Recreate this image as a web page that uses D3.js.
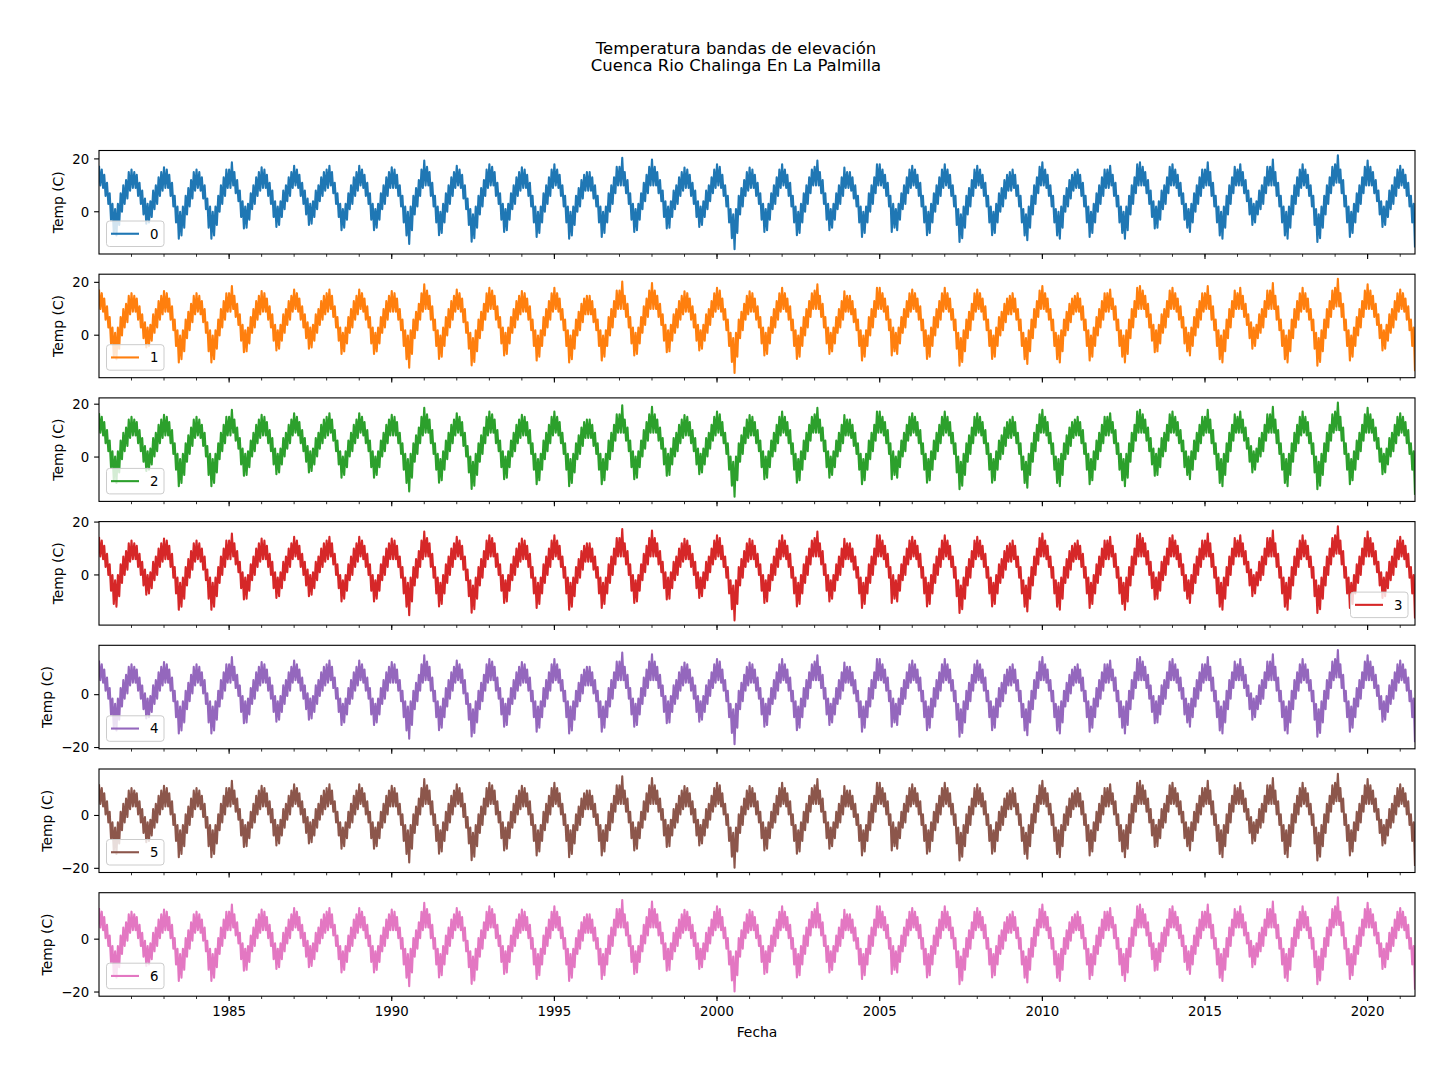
<!DOCTYPE html>
<html><head><meta charset="utf-8">
<script src="https://cdn.jsdelivr.net/npm/d3@7"></script>
<style>
html,body{margin:0;padding:0;background:#fff;}
text{font-family:"DejaVu Sans",sans-serif;fill:#000;}
</style></head>
<body><svg id="chart" width="1456" height="1080"></svg>
<script>
// ---------------- DATA ----------------
const titleLines = ["Temperatura bandas de elevación", "Cuenca Rio Chalinga En La Palmilla"];
const xLabel = "Fecha";
const yLabel = "Temp (C)";
const bandLabels = ["0", "1", "2", "3", "4", "5", "6"];
// shift of each elevation band relative to band 0 (°C)
const bandOffsets = [0, -0.1, -0.8, -3.0, -4.5, -5.6, -5.6];
const legendCorner = ["ll", "ll", "ll", "lr", "ll", "ll", "ll"];
const yTickValues = [-20, 0, 20];
const xMajorYears = [1985, 1990, 1995, 2000, 2005, 2010, 2015, 2020];
const startYear = 1981;
// half-month samples (1st, 16th of each month), band 0 temperature, °C
const temps1981 = [17.4,10,16,9,14,6,11,3,7,-3,3,-8,1,-9,3,-5,7,0,10,3,12,5,15,8];
const temps1982 = [16,9,15,9,14,6,11,3,8,-1,5,-4.5,3,-4,4,-2,8,1,10,3,13,6,15,8];
const temps1983 = [16.8,9,16,9,14,6,11,2,6,-4,2,-10.2,0,-9,2,-6,6,-1,9,2,12,5,15,8];
const temps1984 = [16,9,15,8,13,5,10,1,5,-6,2,-10.2,0,-9,2,-5,6,0,10,3,13,6,16,9];
const temps1985 = [16,9,18.7,10,15,7,12,4,8,-2,4,-6.3,2,-6,3,-3,7,1,10,3,13,6,15,8];
const temps1986 = [16.8,9,16,9,14,6,11,3,8,-2,4,-5.7,2,-5,4,-2,8,1,10,4,13,6,15,9];
const temps1987 = [17.4,10,16,9,14,6,11,3,8,-1,5,-5,3,-4.5,4,-2,8,1,10,4,13,6,15,8];
const temps1988 = [16,9,17.4,10,15,7,11,3,7,-2,3,-7,1,-6,3,-3,7,1,10,3,13,6,15,8];
const temps1989 = [17.4,10,16,9,14,6,11,3,7,-3,3,-7,1,-6,3,-3,7,1,10,3,13,6,15,9];
const temps1990 = [16.8,9,16,9,14,6,10,2,6,-4,2,-9,0,-12.2,2,-7,6,-1,9,2,12,6,16,9];
const temps1991 = [19.4,10,17,10,15,6,11,2,6,-4,2,-8.9,0,-8,3,-4,7,0,10,3,13,6,15,9];
const temps1992 = [17.4,10,16,9,14,5,10,1,5,-5,1,-11.3,-1,-10,2,-6,6,-1,9,2,12,6,16,9];
const temps1993 = [18,10,17,10,15,6,11,3,7,-3,3,-7.6,1,-7,3,-3,7,1,10,3,13,6,15,8];
const temps1994 = [16.8,9,16,9,14,6,11,2,6,-4,2,-9.5,0,-8,2,-4,7,0,10,3,13,6,16,9];
const temps1995 = [18,10,16,9,14,6,10,2,6,-4,2,-10.2,0,-9,2,-5,6,0,9,2,12,5,14,8];
const temps1996 = [15,8,15,8,13,5,10,2,6,-4,2,-9.5,0,-8,2,-4,7,0,10,3,13,7,17,10];
const temps1997 = [17,10,20.4,10,15,7,12,3,7,-3,3,-7.6,1,-7,3,-3,7,1,11,4,14,7,17,10];
const temps1998 = [19.8,10,17,10,15,7,12,4,8,-2,4,-6.3,2,-6,4,-2,8,1,10,3,13,6,15,8];
const temps1999 = [16.7,9,16,9,14,6,11,3,8,-2,4,-5.7,2,-5,4,-2,8,1,10,4,13,7,16,9];
const temps2000 = [18,10,17,9,14,6,10,2,6,-4,1,-10,-1,-14.2,1,-8,6,-1,9,2,12,6,15,8];
const temps2001 = [16.7,9,16,9,14,6,11,3,7,-3,3,-7.6,1,-7,3,-3,7,1,10,3,13,6,16,9];
const temps2002 = [18,10,16,9,14,6,11,2,6,-4,2,-8.9,0,-8,3,-4,7,0,10,3,13,7,16,10];
const temps2003 = [17,10,19.4,10,15,7,12,3,7,-3,3,-7,1,-6,3,-3,7,1,10,3,13,6,16.7,9];
const temps2004 = [15,9,15,8,13,5,10,2,6,-4,2,-9.5,0,-8,2,-4,7,0,10,3,13,7,18,10];
const temps2005 = [18,10,16,9,14,6,11,2,6,-7.6,3,-6,1,-7,3,-3,7,1,10,3,13,7,16,9];
const temps2006 = [17.4,10,16,9,14,6,11,2,6,-4,2,-8.9,0,-8,3,-4,7,0,10,3,13,6,16,9];
const temps2007 = [18,10,16,9,14,6,10,2,6,-5,1,-11.4,-1,-10,2,-6,6,-1,9,2,12,6,16,9];
const temps2008 = [17.4,10,16,9,14,6,11,2,6,-4,2,-8.9,0,-8,3,-4,7,0,9,2,12,5,14,8];
const temps2009 = [15,8,16,9,14,6,10,2,6,-4,1,-9,-1,-10.8,2,-6,6,-1,10,3,13,7,17,10];
const temps2010 = [18.7,10,16,9,14,6,10,2,6,-4,1,-9,0,-10.2,2,-6,6,0,9,2,12,5,14,8];
const temps2011 = [15,9,16,9,14,6,11,2,6,-4,2,-9.5,0,-8,3,-4,7,0,10,3,13,6,16,9];
const temps2012 = [16,9,17.4,10,14,6,11,2,6,-4,2,-8,0,-10.2,2,-7,6,-1,10,3,13,7,18,10];
const temps2013 = [18.7,10,17,10,15,7,12,3,8,-2,4,-6.3,2,-6,4,-3,8,1,10,3,13,7,17,10];
const temps2014 = [18,10,16,9,14,6,11,3,7,-3,3,-6,1,-7.6,3,-4,7,0,10,3,13,6,16,9];
const temps2015 = [16,10,18.7,10,15,6,11,2,6,-4,2,-9,0,-10.2,2,-6,6,-1,10,3,13,7,17,10];
const temps2016 = [16,10,18,10,15,7,12,4,8,-1,5,-5,3,-4,4,-1,8,1,10,3,13,7,17,10];
const temps2017 = [17,10,19.8,10,15,6,11,2,6,-4,2,-9,0,-10.2,2,-6,6,-1,10,3,13,6,16,9];
const temps2018 = [18,10,16,9,14,6,10,2,6,-5,1,-11.4,-1,-10,2,-6,6,-1,10,3,13,7,17,10];
const temps2019 = [18,11,21.4,11,16,7,12,2,6,-4,2,-9.5,0,-8,3,-4,7,0,10,3,13,7,17,10];
const temps2020 = [19.4,10,17,10,15,7,12,4,8,-1,4,-5.7,2,-5,4,-2,8,1,10,3,13,6,16,9];
const temps2021 = [17.4,10,16,9,14,6,11,2,6,-4,3,-13.5];
const tempsByYear = [temps1981,temps1982,temps1983,temps1984,temps1985,temps1986,temps1987,temps1988,temps1989,temps1990,
  temps1991,temps1992,temps1993,temps1994,temps1995,temps1996,temps1997,temps1998,temps1999,temps2000,
  temps2001,temps2002,temps2003,temps2004,temps2005,temps2006,temps2007,temps2008,temps2009,temps2010,
  temps2011,temps2012,temps2013,temps2014,temps2015,temps2016,temps2017,temps2018,temps2019,temps2020,temps2021];
const bandColors = ["#1f77b4","#ff7f0e","#2ca02c","#d62728","#9467bd","#8c564b","#e377c2"];

// ---------------- LAYOUT ----------------
const svg = d3.select("#chart");
const L = 99, R = 1415, TOP0 = 150.5, PH = 103.5, PITCH = 123.7;
const FS = 13.3, FSL = 13.9;
const MAJ = 4.9, MIN = 2.8;

const base = [];
tempsByYear.forEach((row, yi) => {
  row.forEach((v, i) => {
    base.push({d: new Date(startYear + yi, Math.floor(i / 2), i % 2 === 0 ? 1 : 16), v});
  });
});

const x = d3.scaleTime()
  .domain([new Date(startYear, 0, 1), base[base.length - 1].d])
  .range([L, R]);

const minorTicks = d3.timeYear.range(new Date(startYear + 1, 0, 1), base[base.length - 1].d);
const majorDates = xMajorYears.map(y => new Date(y, 0, 1));

const fmtNum = d => d < 0 ? "\u2212" + Math.abs(d) : String(d);

titleLines.forEach((t, i) => {
  svg.append("text").attr("x", 736).attr("y", 53.5 + i * 17.5)
    .attr("text-anchor", "middle").style("font-size", "16.5px").text(t);
});

bandLabels.forEach((lab, k) => {
  const top = TOP0 + k * PITCH, bot = top + PH;
  const data = base.map(p => ({d: p.d, v: p.v + bandOffsets[k]}));
  const ext = d3.extent(data, p => p.v);
  const pad = (ext[1] - ext[0]) * 0.05;
  const y = d3.scaleLinear().domain([ext[0] - pad, ext[1] + pad]).range([bot, top]);
  const g = svg.append("g");

  g.append("clipPath").attr("id", "clip" + k)
    .append("rect").attr("x", L).attr("y", top).attr("width", R - L).attr("height", PH);

  const line = d3.line().x(p => x(p.d)).y(p => y(p.v));
  g.append("path").datum(data)
    .attr("clip-path", "url(#clip" + k + ")")
    .attr("fill", "none").attr("stroke", bandColors[k])
    .attr("stroke-width", 2.1).attr("stroke-linejoin", "round")
    .attr("d", line);

  const yt = yTickValues.filter(v => v >= y.domain()[0] && v <= y.domain()[1]);
  const yAxisG = g.append("g");
  yt.forEach(v => {
    yAxisG.append("line").attr("x1", L - MAJ).attr("x2", L).attr("y1", y(v)).attr("y2", y(v))
      .attr("stroke", "#000").attr("stroke-width", 1.1);
    yAxisG.append("text").attr("x", L - MAJ - 4.9).attr("y", y(v)).attr("dy", "0.36em")
      .attr("text-anchor", "end").style("font-size", FS + "px").text(fmtNum(v));
  });
  const bb = yAxisG.node().getBBox();
  g.append("text")
    .attr("transform", `translate(${bb.x - 9},${(top + bot) / 2}) rotate(-90)`)
    .attr("text-anchor", "middle").style("font-size", FSL + "px").text(yLabel);

  minorTicks.forEach(d => {
    g.append("line").attr("x1", x(d)).attr("x2", x(d)).attr("y1", bot).attr("y2", bot + MIN)
      .attr("stroke", "#000").attr("stroke-width", 0.8);
  });
  majorDates.forEach(d => {
    g.append("line").attr("x1", x(d)).attr("x2", x(d)).attr("y1", bot).attr("y2", bot + MAJ)
      .attr("stroke", "#000").attr("stroke-width", 1.1);
    if (k === bandLabels.length - 1) {
      g.append("text").attr("x", x(d)).attr("y", bot + MAJ + 4.9).attr("dy", "0.76em")
        .attr("text-anchor", "middle").style("font-size", FS + "px").text(d.getFullYear());
    }
  });

  g.append("rect").attr("x", L).attr("y", top).attr("width", R - L).attr("height", PH)
    .attr("fill", "none").attr("stroke", "#000").attr("stroke-width", 1.1);

  const lw = 57.5, lh = 25.5;
  const lx = legendCorner[k] === "ll" ? L + 7.5 : R - 7 - lw;
  const ly = bot - 7.5 - lh;
  const lg = g.append("g").attr("transform", `translate(${lx},${ly})`);
  lg.append("rect").attr("width", lw).attr("height", lh).attr("rx", 3)
    .attr("fill", "#fff").attr("fill-opacity", 0.8)
    .attr("stroke", "#cccccc").attr("stroke-width", 1);
  lg.append("line").attr("x1", 4.5).attr("x2", 32.5).attr("y1", lh / 2).attr("y2", lh / 2)
    .attr("stroke", bandColors[k]).attr("stroke-width", 2.1);
  lg.append("text").attr("x", 43.5).attr("y", lh / 2).attr("dy", "0.36em")
    .style("font-size", FS + "px").text(lab);
});

svg.append("text").attr("x", (L + R) / 2).attr("y", 1037).attr("text-anchor", "middle")
  .style("font-size", FSL + "px").text(xLabel);
</script>
</body></html>
